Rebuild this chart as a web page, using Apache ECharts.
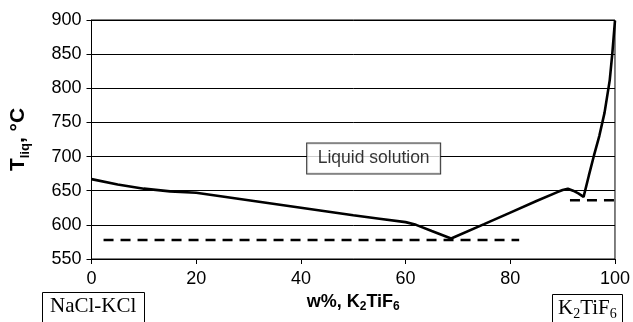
<!DOCTYPE html>
<html>
<head>
<meta charset="utf-8">
<script src="https://cdn.jsdelivr.net/npm/echarts@6/dist/echarts.min.js"></script>
<style>
html,body{margin:0;padding:0;background:#fff;}
#c{width:633px;height:322px;}
</style>
</head>
<body>
<div id="c"></div>
<script>
// Liquidus curve, w% K2TiF6 vs T (°C)
const wPct = [0, 5, 10, 15, 20, 30, 40, 50, 55, 60, 62, 65, 68.7, 75, 80, 85, 89, 90, 91, 92, 93, 94, 95, 96, 97, 98, 99, 99.5, 100];
const tLiq = [667, 659, 653, 649, 647, 636, 625, 614, 609, 604, 600, 591, 580, 601, 618, 635, 648, 651, 653, 650, 646, 641, 672, 702, 730, 764, 812, 852, 899];
// Eutectic and peritectic horizontals
const eutecticW = [2.3, 81.7];
const eutecticT = [578, 578];
const peritecticW = [91.4, 100.3];
const peritecticT = [636, 636];
// Annotation
const regionLabelPos = [53.9, 697];
const regionLabel = 'Liquid solution';
// Axis ticks
const xTicks = [0, 20, 40, 60, 80, 100];
const yTicks = [550, 600, 650, 700, 750, 800, 850, 900];

const pairs = (xs, ys) => xs.map((x, i) => [x, ys[i]]);

const chart = echarts.init(document.getElementById('c'), null, {renderer: 'canvas'});
const font = 'Arial, "Liberation Sans", sans-serif';
const serif = '"Times New Roman", "Liberation Serif", serif';

chart.setOption({
  animation: false,
  backgroundColor: '#fff',
  title: [
    {
      text: 'NaCl-KCl',
      left: 42, top: 292,
      padding: [4, 8, 20, 8],
      borderColor: '#000', borderWidth: 1,
      textStyle: {fontFamily: serif, fontSize: 21, fontWeight: 'normal', color: '#000'}
    },
    {
      text: '{n|K}{s|2}{n|TiF}{s|6}',
      left: 552, top: 292,
      padding: [3, 6, 20, 6],
      borderColor: '#000', borderWidth: 1,
      textStyle: {
        fontFamily: serif, fontSize: 21, fontWeight: 'normal', color: '#000',
        rich: {
          n: {fontFamily: serif, fontSize: 21, color: '#000', lineHeight: 26, verticalAlign: 'middle'},
          s: {fontFamily: serif, fontSize: 14, color: '#000', lineHeight: 12, verticalAlign: 'bottom'}
        }
      }
    }
  ],
  grid: {
    left: 91, right: 16, top: 20, bottom: 63,
    show: true, borderColor: '#000', borderWidth: 1
  },
  xAxis: {
    type: 'value', min: xTicks[0], max: xTicks[xTicks.length - 1], interval: 20,
    name: '{b|w%, K}{s|2}{b|TiF}{s|6}',
    nameLocation: 'middle', nameGap: 30,
    nameTextStyle: {
      rich: {
        b: {fontFamily: font, fontWeight: 'bold', fontSize: 18, color: '#000', lineHeight: 22, verticalAlign: 'middle'},
        s: {fontFamily: font, fontWeight: 'bold', fontSize: 12, color: '#000', lineHeight: 10, verticalAlign: 'bottom'}
      }
    },
    axisLine: {show: true, lineStyle: {color: '#000', width: 1}},
    axisTick: {show: true, inside: false, length: 5, lineStyle: {color: '#000'}},
    axisLabel: {margin: 11, fontFamily: font, fontSize: 18, color: '#000'},
    splitLine: {show: false}
  },
  yAxis: {
    type: 'value', min: yTicks[0], max: yTicks[yTicks.length - 1], interval: 50,
    name: '{b|T}{s|liq}{b|, °C}',
    nameLocation: 'middle', nameGap: 60, nameRotate: 90,
    nameTextStyle: {
      rich: {
        b: {fontFamily: font, fontWeight: 'bold', fontSize: 21, color: '#000', lineHeight: 26, verticalAlign: 'middle'},
        s: {fontFamily: font, fontWeight: 'bold', fontSize: 13, color: '#000', lineHeight: 12, verticalAlign: 'bottom'}
      }
    },
    axisLine: {show: true, lineStyle: {color: '#000', width: 1}},
    axisTick: {show: true, inside: false, length: 5, lineStyle: {color: '#000'}},
    axisLabel: {margin: 10, fontFamily: font, fontSize: 18, color: '#000'},
    splitLine: {show: true, lineStyle: {color: '#000', width: 1}}
  },
  series: [
    {
      type: 'line', data: pairs(wPct, tLiq), showSymbol: false, symbol: 'none',
      lineStyle: {color: '#000', width: 2.6}, z: 5, smooth: false
    },
    {
      type: 'line', data: pairs(eutecticW, eutecticT), symbol: 'none',
      lineStyle: {color: '#000', width: 2.5, type: [10, 7]}, z: 4
    },
    {
      type: 'line', data: pairs(peritecticW, peritecticT), symbol: 'none', clip: false,
      lineStyle: {color: '#000', width: 2.5, type: [10, 7]}, z: 4
    },
    {
      type: 'scatter', data: [regionLabelPos], symbolSize: 0, z: 10, silent: true,
      label: {
        show: true, position: 'inside', formatter: regionLabel,
        fontFamily: font, fontSize: 17.5, color: '#000',
        backgroundColor: '#fff', borderColor: '#000', borderWidth: 1,
        width: 113, height: 30, lineHeight: 30, align: 'center', verticalAlign: 'middle',
        padding: [0, 10, 0, 10]
      }
    }
  ]
});
</script>
</body>
</html>
